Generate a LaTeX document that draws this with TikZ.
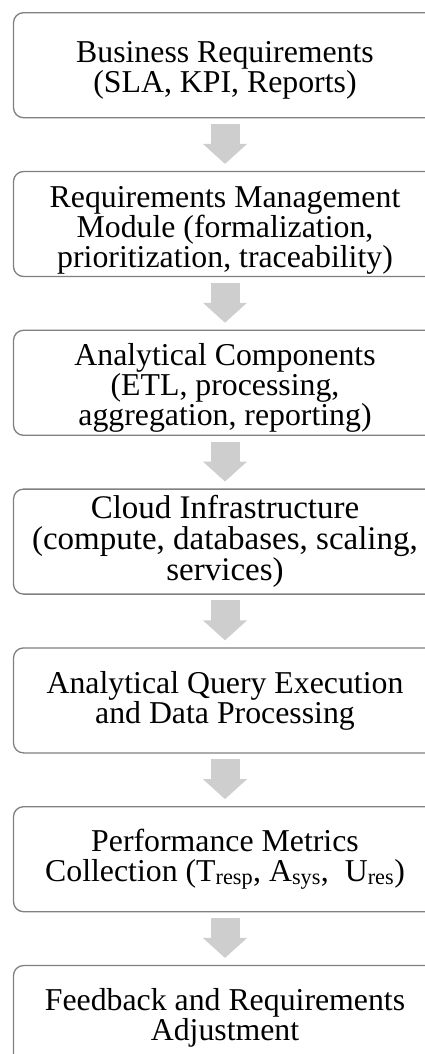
\documentclass[tikz,border=0pt]{standalone}
\usepackage{fontspec}
\setmainfont{Liberation Serif}
\usetikzlibrary{positioning,arrows.meta}
\definecolor{boxline}{RGB}{128,128,128}
\definecolor{flowgray}{RGB}{206,206,206}
\newcommand{\lift}[1]{\rule{0pt}{#1}}
\begin{document}
\begin{tikzpicture}[x=1pt,y=1pt,
  every node/.style={font=\fontsize{31.8}{30}\selectfont},
  box/.style={draw=boxline,line width=1.3pt,rounded corners=10pt,minimum width=423pt,minimum height=105pt,align=center,inner sep=0pt},
  flow/.style={flowgray,line width=29pt,shorten <=5.6pt,shorten >=6.9pt,-{Triangle[width=43pt,length=20pt]}}]
\useasboundingbox (0,0) rectangle (425,-1054);
\clip (0,0) rectangle (425,-1054);
\node[box] (biz) at (225,-65.2) {\lift{31pt}Business Requirements\\(SLA, KPI, Reports)};
\node[box,below=52.5pt of biz] (reqm) {\lift{34pt}Requirements Management\\Module (formalization,\\prioritization, traceability)};
\node[box,below=52.5pt of reqm] (anal) {\lift{32pt}Analytical Components\\(ETL, processing,\\aggregation, reporting)};
\node[box,below=52.5pt of anal,font=\fontsize{33}{31}\selectfont] (cloud) {Cloud Infrastructure\\(compute, databases, scaling,\\services)};
\node[box,below=52.5pt of cloud] (query) {Analytical Query Execution\\and Data Processing};
\node[box,below=52.5pt of query] (metr) {Performance Metrics\\Collection (T\textsubscript{resp}, A\textsubscript{sys},\ \ U\textsubscript{res})};
\node[box,below=52.5pt of metr] (feed) {Feedback and Requirements\\Adjustment};
\draw[flow] (biz) -- (reqm);
\draw[flow] (reqm) -- (anal);
\draw[flow] (anal) -- (cloud);
\draw[flow] (cloud) -- (query);
\draw[flow] (query) -- (metr);
\draw[flow] (metr) -- (feed);
\end{tikzpicture}
\end{document}
